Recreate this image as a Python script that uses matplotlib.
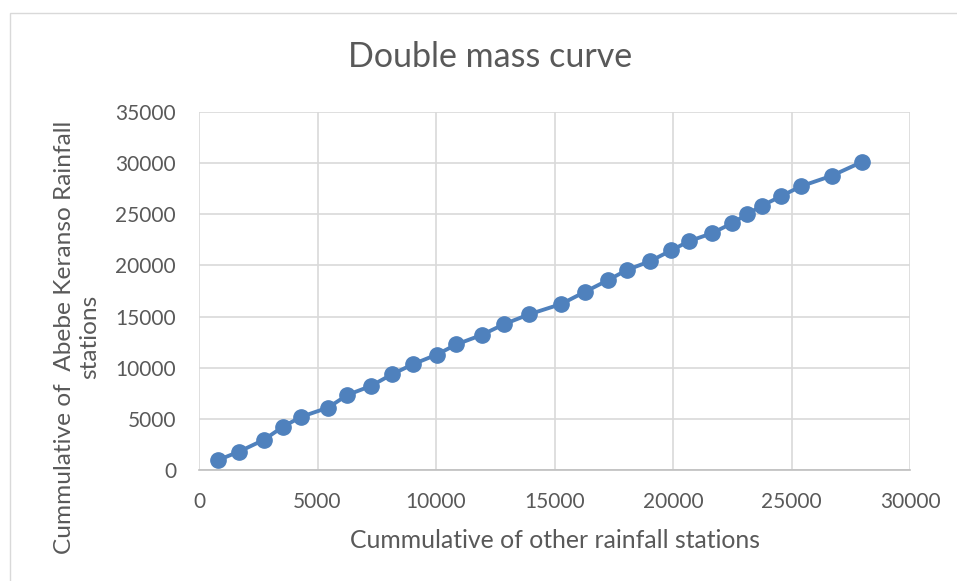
import matplotlib
matplotlib.use("Agg")
import matplotlib.pyplot as plt
from matplotlib.patches import Rectangle

plt.rcParams['font.family'] = ['Lato', 'DejaVu Sans']

other_cum = [813, 1685, 2725, 3551, 4297, 5447, 6264, 7260, 8145, 9030,
             10040, 10855, 11935, 12876, 13942, 15284, 16296, 17265, 18050, 19020,
             19935, 20665, 21635, 22490, 23140, 23755, 24570, 25400, 26705, 27995]
abebe_cum = [978, 1790, 2935, 4240, 5186, 6100, 7340, 8220, 9360, 10340,
             11290, 12270, 13210, 14260, 15230, 16227, 17430, 18570, 19550, 20400,
             21480, 22360, 23140, 24120, 25030, 25840, 26780, 27740, 28770, 30140]
x_ticks = [0, 5000, 10000, 15000, 20000, 25000, 30000]
y_ticks = [0, 5000, 10000, 15000, 20000, 25000, 30000, 35000]

W, H = 957, 581
fig = plt.figure(figsize=(W/100, H/100), dpi=100)
fig.patch.set_facecolor('white')

# chart border (only left/top visible)
fig.patches.append(Rectangle((10/W, -0.1), 1.2, (H-13)/H + 0.1, transform=fig.transFigure,
                             fill=False, edgecolor='#D9D9D9', linewidth=1.0))

ax = fig.add_axes([199/W, (H-470)/H, 711/W, 358/H])
ax.plot(other_cum, abebe_cum, color='#4F81BD', linewidth=2.8, marker='o',
        markersize=11, markerfacecolor='#4F81BD', markeredgecolor='#4F81BD', zorder=3)
ax.set_xlim(0, 30000)
ax.set_ylim(0, 35000)
ax.set_xticks(x_ticks)
ax.set_yticks(y_ticks)
ax.grid(True, color='#D9D9D9', linewidth=1.2)
ax.set_axisbelow(True)
for s in ['top', 'right', 'left']:
    ax.spines[s].set_visible(False)
ax.spines['bottom'].set_color('#BFBFBF')
ax.spines['bottom'].set_linewidth(1.2)
ax.tick_params(axis='both', length=0, labelsize=15, labelcolor='#595959')
ax.tick_params(axis='y', pad=16.5)
ax.tick_params(axis='x', pad=16)

fig.text(490/W, 1 - 57/H, 'Double mass curve', ha='center', va='center',
         fontsize=24.5, color='#595959')
fig.text(555/W, 1 - 541/H, 'Cummulative of other rainfall stations', ha='center',
         va='center', fontsize=17.8, color='#595959')
fig.text(77/W, 1 - 337/H, 'Cummulative of  Abebe Keranso Rainfall\nstations', ha='center',
         va='center', rotation=90, fontsize=17.6, color='#595959', linespacing=1.25)

fig.savefig('out.png', dpi=100)
